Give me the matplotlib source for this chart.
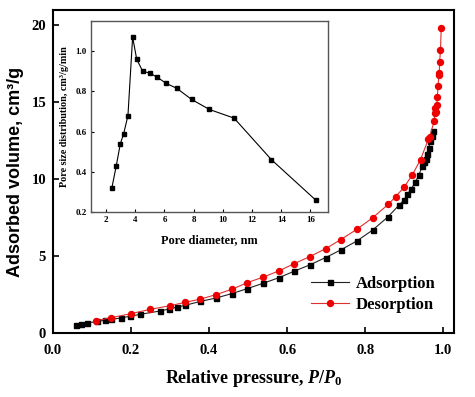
import matplotlib
matplotlib.use('Agg')
import matplotlib.pyplot as plt

# isotherm data
ads_p = [0.059, 0.073, 0.088, 0.112, 0.133, 0.149, 0.174, 0.197, 0.224, 0.273, 0.297, 0.318, 0.338,
         0.378, 0.418, 0.459, 0.498, 0.538, 0.579, 0.618, 0.658, 0.699, 0.738, 0.779, 0.819, 0.858,
         0.887, 0.899, 0.908, 0.918, 0.929, 0.938, 0.947, 0.951, 0.955, 0.958, 0.963, 0.967, 0.971, 0.973]
ads_v = [0.52, 0.59, 0.65, 0.76, 0.83, 0.89, 0.98, 1.09, 1.22, 1.43, 1.56, 1.69, 1.80,
         2.06, 2.28, 2.57, 2.89, 3.23, 3.60, 4.02, 4.43, 4.91, 5.41, 5.99, 6.69, 7.54,
         8.32, 8.63, 9.01, 9.36, 9.82, 10.3, 10.86, 11.1, 11.3, 11.65, 12.05, 12.45, 12.79, 13.1]

des_p = [0.109, 0.149, 0.199, 0.249, 0.300, 0.339, 0.378, 0.418, 0.460, 0.498, 0.538, 0.579, 0.618,
         0.658, 0.699, 0.738, 0.779, 0.819, 0.859, 0.878, 0.900, 0.921, 0.942, 0.962, 0.965, 0.977,
         0.978, 0.980, 0.981, 0.984, 0.985, 0.987, 0.989, 0.990, 0.991, 0.993, 0.995]
des_v = [0.80, 1.00, 1.26, 1.54, 1.78, 2.00, 2.21, 2.50, 2.86, 3.28, 3.63, 4.04, 4.51,
         4.97, 5.49, 6.08, 6.75, 7.49, 8.36, 8.86, 9.49, 10.28, 11.28, 12.6, 12.74, 13.77,
         14.3, 14.6, 14.35, 14.85, 15.37, 16.07, 16.8, 16.9, 17.64, 18.37, 19.8]

# pore size distribution (inset)
pore_d = [2.39, 2.70, 2.98, 3.21, 3.50, 3.82, 4.10, 4.51, 5.03, 5.51, 6.12, 6.85, 7.86, 9.08,
          10.77, 13.33, 16.35]
pore_dv = [0.317, 0.43, 0.54, 0.59, 0.68, 1.07, 0.96, 0.90, 0.89, 0.87, 0.84, 0.815, 0.76, 0.71,
           0.667, 0.46, 0.26]

main_xticks = [0.0, 0.2, 0.4, 0.6, 0.8, 1.0]
main_yticks = [0, 5, 10, 15, 20]
inset_xticks = [2, 4, 6, 8, 10, 12, 14, 16]
inset_yticks = [0.2, 0.4, 0.6, 0.8, 1.0]

plt.rcParams['font.family'] = 'Liberation Serif'
plt.rcParams['font.weight'] = 'bold'
plt.rcParams['mathtext.fontset'] = 'custom'
plt.rcParams['mathtext.it'] = 'Liberation Serif:italic:bold'
plt.rcParams['mathtext.rm'] = 'Liberation Serif:bold'

fig = plt.figure(figsize=(4.75, 3.97), dpi=100)
ax = fig.add_axes([0.1116, 0.161, 0.8444, 0.814])

ax.plot(ads_p, ads_v, color='#222222', lw=0.8, marker='s', ms=3.6, mfc='black', mec='black',
        label='Adsorption')
ax.plot(des_p, des_v, color='#e03030', lw=0.8, marker='o', ms=4.3, mfc='#ee0000', mec='#ee0000',
        label='Desorption')

ax.set_xlim(0, 1.028)
ax.set_ylim(0, 21.0)
ax.set_xticks(main_xticks)
ax.set_xticklabels([f'{t:.1f}' for t in main_xticks])
ax.set_yticks(main_yticks)
ax.tick_params(direction='in', length=4, width=1.2, labelsize=10.5, pad=5)
ax.tick_params(axis='x', pad=8)
for lab in ax.get_xticklabels() + ax.get_yticklabels():
    lab.set_fontweight('bold')
for s in ax.spines.values():
    s.set_linewidth(1.5)

ax.set_xlabel(r'Relative pressure, $\it{P/P_0}$', fontsize=13, fontweight='bold', labelpad=8)
ax.set_ylabel('Adsorbed volume, cm³/g', fontsize=13, fontweight='bold',
              family='Liberation Sans', labelpad=5)

leg = ax.legend(loc='center left', bbox_to_anchor=(0.605, 0.12), frameon=False,
                prop={'size': 12, 'weight': 'bold'}, handlelength=2.3, labelspacing=0.3,
                handletextpad=0.4)

# inset with pore size distribution
ins = fig.add_axes([0.1916, 0.466, 0.4989, 0.481])
ins.plot(pore_d, pore_dv, color='black', lw=0.8, marker='s', ms=2.2)
ins.set_xlim(0.97, 17.2)
ins.set_ylim(0.2, 1.15)
ins.set_xticks(inset_xticks)
ins.set_yticks(inset_yticks)
ins.set_yticklabels([f'{t:.1f}' for t in inset_yticks])
ins.tick_params(direction='in', length=2.5, width=0.8, labelsize=6.5, pad=3)
for lab in ins.get_xticklabels() + ins.get_yticklabels():
    lab.set_fontweight('bold')
for s in ins.spines.values():
    s.set_linewidth(1.0)
    s.set_color('#555555')
ins.set_xlabel('Pore diameter, nm', fontsize=8.8, fontweight='bold', labelpad=7)
ins.set_ylabel('Pore size distribution, cm³/g/min', fontsize=7.3, fontweight='bold', labelpad=5)

fig.savefig('out.png', dpi=100)
